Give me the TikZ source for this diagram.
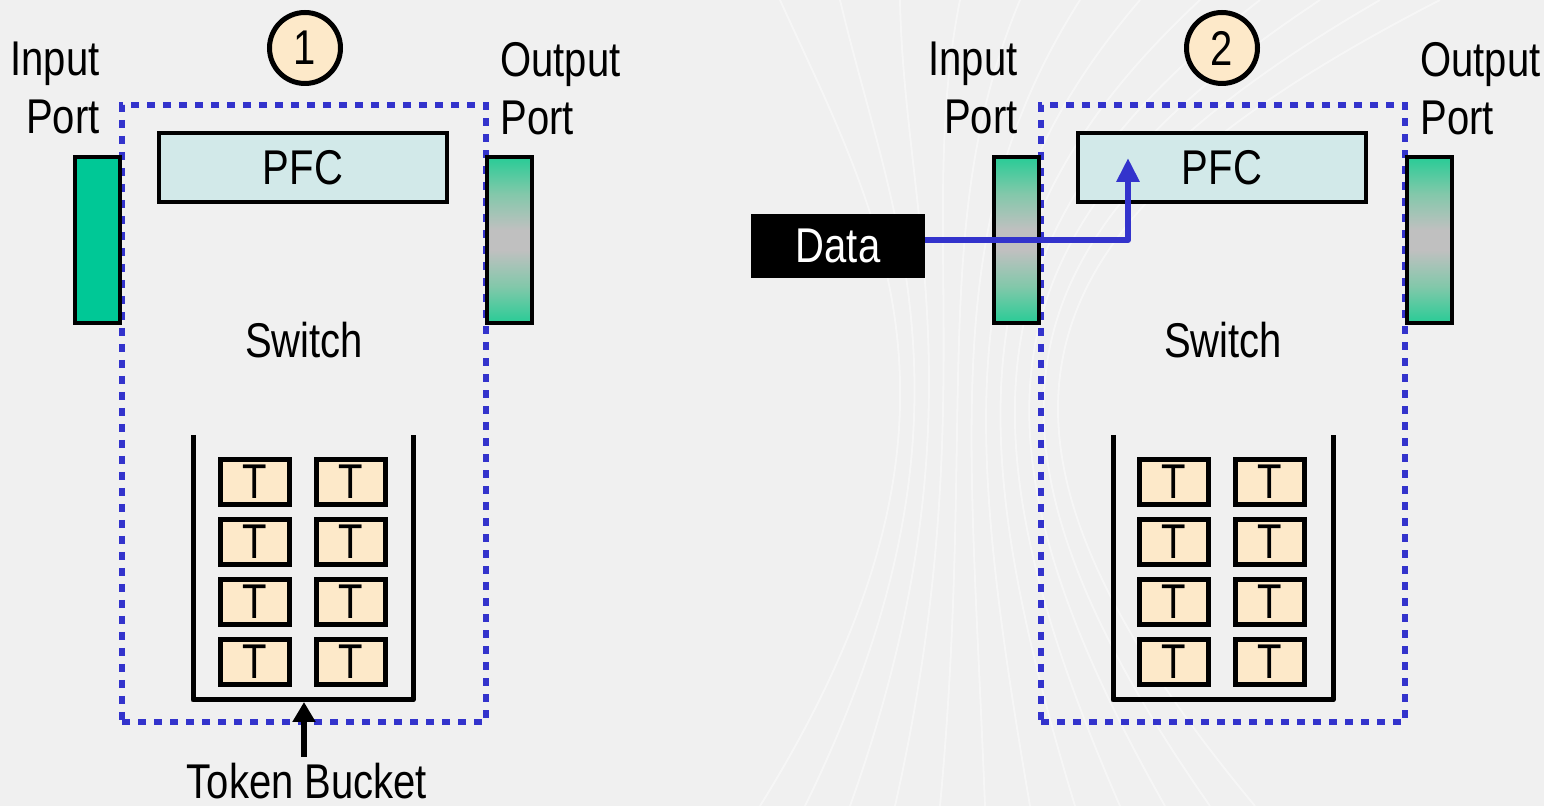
\documentclass[tikz,border=0pt]{standalone}
\usepackage{fontspec}
\setmainfont{Liberation Sans}[FakeStretch=0.82]
\usetikzlibrary{arrows.meta}
\definecolor{bg}{RGB}{240,240,240}
\definecolor{dotblue}{RGB}{51,51,204}
\definecolor{portgreen}{RGB}{0,200,150}
\definecolor{gradgreen}{RGB}{40,204,150}
\definecolor{gradmid}{RGB}{130,200,170}
\definecolor{gradgray}{RGB}{192,192,192}
\definecolor{pfcfill}{RGB}{210,233,233}
\definecolor{tokfill}{RGB}{253,233,201}

% green -> grey -> green fill of the faded ports
\pgfdeclareverticalshading{portshade}{100bp}{%
  color(0bp)=(gradgreen); color(25bp)=(gradgreen);
  color(36bp)=(gradmid); color(47bp)=(gradgray); color(53bp)=(gradgray);
  color(64bp)=(gradmid); color(75bp)=(gradgreen); color(100bp)=(gradgreen)}

\tikzset{
  txt/.style={inner sep=0pt, font=\fontsize{24.4}{29}\selectfont},
  switchbox/.style={draw=dotblue, line width=3pt, dash pattern=on 4pt off 4pt,
    minimum width=182pt, minimum height=308.5pt, inner sep=0pt},
  portsolid/.style={draw=black, line width=2pt, fill=portgreen,
    minimum width=22.5pt, minimum height=83pt, inner sep=0pt},
  portgrad/.style={draw=black, line width=2pt, shading=portshade,
    minimum width=22.5pt, minimum height=83pt, inner sep=0pt},
  pfcbox/.style={draw=black, line width=2pt, fill=pfcfill,
    minimum width=144pt, minimum height=34.5pt, inner sep=0pt,
    font=\fontsize{24.4}{29}\selectfont},
  token/.style={draw=black, line width=2.5pt, fill=tokfill,
    minimum width=34.5pt, minimum height=22.5pt, inner sep=0pt,
    font=\fontsize{24.4}{29}\selectfont},
  stepnum/.style={circle, draw=black, line width=2.5pt, fill=tokfill,
    minimum size=35.5pt, inner sep=0pt, font=\fontsize{24.4}{29}\selectfont},
  bucket/.style={draw=black, line width=2.5pt, line join=round},
  swirl/.style={draw=white, line width=0.9pt, opacity=0.45}
}

\begin{document}
\begin{tikzpicture}[x=0.5pt, y=-0.5pt]
  % canvas
  \fill[bg] (0,0) rectangle (1544,806);
  \useasboundingbox (0,0) rectangle (1544,806);

  % faint swirl lines of the backdrop
  \foreach \i in {0,...,11}{
    \draw[swirl] (780+60*\i,0) .. controls (880+12*\i,220) and (1000-6*\i,420)
      .. (760+45*\i,806);
  }
  \foreach \r in {800,840,...,1040}{
    \draw[swirl] (-300,1400) ++(80:\r) arc[start angle=80, end angle=30, radius=\r];
  }

  % ---------- step 1 ----------
  \node[switchbox] (sw1) at (304,413.5) {};
  \node[portsolid] (in1) at (97.5,240) {};
  \node[portgrad] (out1) at (509.5,240) {};
  \node[pfcbox] (pfc1) at (303,167.5) {PFC};
  \node[stepnum] (n1) at (305,48) {1};
  \node[txt, align=right, anchor=north east] (inl1) at (100,42) {Input\\Port};
  \node[txt, align=left, anchor=north west] (outl1) at (500,42) {Output\\Port};
  \node[txt] (swl1) at (304,340) {Switch};

  \draw[bucket] (193,435) -- (193,700) -- (413,700) -- (413,435);
  \coordinate (bk1) at (304,702);
  \foreach \r/\y in {1/482,2/542,3/602,4/662}{
    \node[token] (t1a\r) at (255,\y) {T};
    \node[token] (t1b\r) at (351,\y) {T};
  }
  \node[txt, anchor=north] (tbl) at (307,763) {Token Bucket};
  \draw[line width=3pt, -{Triangle[width=11pt,length=10pt]}]
    ([yshift=3pt]tbl.north -| bk1) -- (bk1);

  % ---------- step 2 ----------
  \node[switchbox] (sw2) at (1223,413.5) {};
  \node[portgrad] (in2) at (1016.5,240) {};
  \node[portgrad] (out2) at (1429.5,240) {};
  \node[pfcbox] (pfc2) at (1222,167.5) {PFC};
  \node[stepnum] (n2) at (1222,48) {2};
  \node[txt, align=right, anchor=north east] (inl2) at (1018,42) {Input\\Port};
  \node[txt, align=left, anchor=north west] (outl2) at (1420,42) {Output\\Port};
  \node[txt] (swl2) at (1223,340) {Switch};

  \draw[bucket] (1113,435) -- (1113,700) -- (1333,700) -- (1333,435);
  \foreach \r/\y in {1/482,2/542,3/602,4/662}{
    \node[token] (t2a\r) at (1174,\y) {T};
    \node[token] (t2b\r) at (1270,\y) {T};
  }

  % data packet entering the switch and reaching PFC
  \node[fill=black, text=white, minimum width=87pt, minimum height=32pt,
        inner sep=0pt, font=\fontsize{24.4}{29}\selectfont] (data) at (838,246) {Data};
  \coordinate (pfcin) at (1128,158);
  \draw[dotblue, line width=3pt, line join=round, -{Triangle[width=11pt,length=12pt]}]
    ([yshift=3pt]data.east) -| (pfcin);
\end{tikzpicture}
\end{document}
